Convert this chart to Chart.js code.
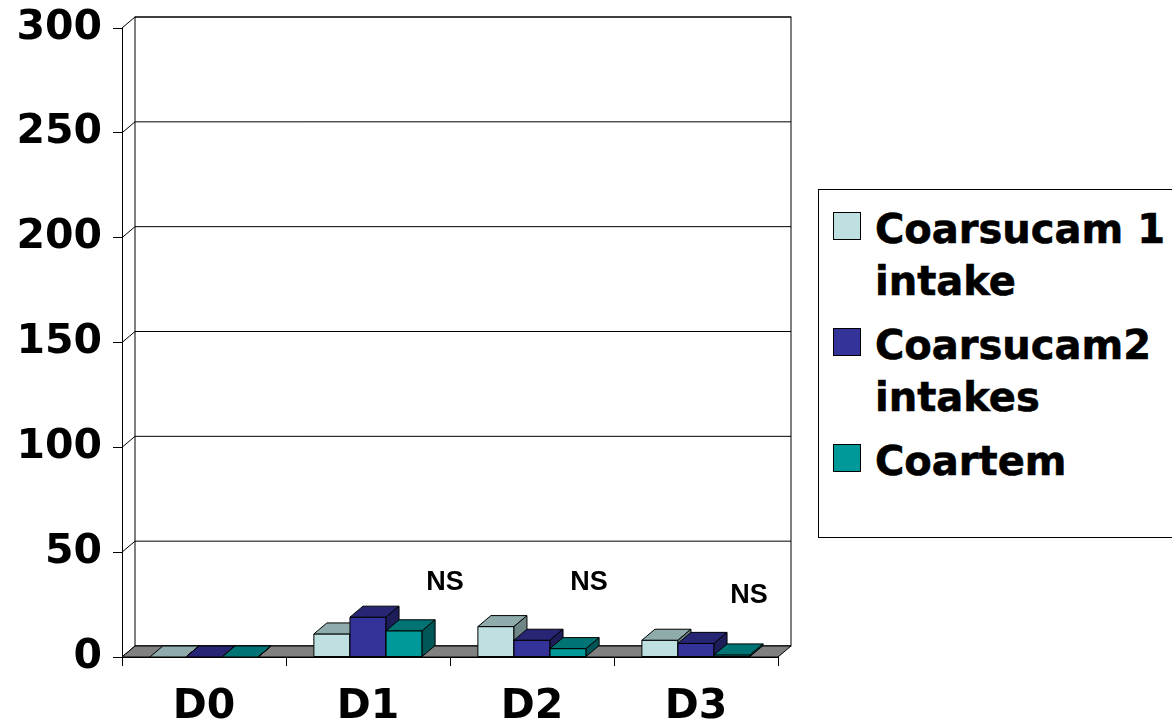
<!DOCTYPE html>
<html>
<head>
<meta charset="utf-8">
<script src="https://cdn.jsdelivr.net/npm/chart.js@4.4.1/dist/chart.umd.min.js"></script>
<style>
  html, body { margin: 0; padding: 0; background: #fff; overflow: hidden; }
  #wrap { position: relative; width: 1172px; height: 725px; }
  #legend {
    position: absolute; left: 818px; top: 189px; width: 420px; height: 349px;
    border: 1.5px solid #000; box-sizing: border-box; background: #fff;
    font-family: "DejaVu Sans", Verdana, sans-serif; font-weight: bold; font-size: 40px;
    line-height: 52px; padding-top: 13px; -webkit-text-stroke: 0.6px #000;
  }
  .item { position: relative; padding-left: 56px; width: 300px; margin-bottom: 12px; }
  .box { position: absolute; left: 14px; top: 9px; width: 28px; height: 28px; border: 1px solid #000; box-sizing: border-box; }
</style>
</head>
<body>
<div id="wrap">
  <canvas id="chart" width="1172" height="725"></canvas>
  <div id="legend"></div>
</div>
<script>
// data
const categories = ['D0', 'D1', 'D2', 'D3'];
const seriesNames = ['Coarsucam 1 intake', 'Coarsucam2 intakes', 'Coartem'];
const coarsucam1 = [0, 11, 14.5, 8];
const coarsucam2 = [0, 19, 8, 6.5];
const coartem = [0, 12.5, 4, 1];
const yTicks = [0, 50, 100, 150, 200, 250, 300];
// "NS" notes: category index, height in axis units
const nsNotes = [
  { cat: 1, value: 35.5, dx: 77 },
  { cat: 2, value: 35.5, dx: 57 },
  { cat: 3, value: 29.5, dx: 53 }
];

// colours: front, top, side
const frontColors = ['#BFE0E0', '#333399', '#009999'];
const topColors = ['#8FABAB', '#262675', '#007474'];
const sideColors = ['#6E8686', '#1D1D5A', '#005656'];
const depth = { dx: 13, dy: 11 };

const boldFont = '"DejaVu Sans", Verdana, sans-serif';

function poly(ctx, pts, fill) {
    ctx.beginPath();
    ctx.moveTo(pts[0][0], pts[0][1]);
    for (let i = 1; i < pts.length; i++) ctx.lineTo(pts[i][0], pts[i][1]);
    ctx.closePath();
    if (fill) { ctx.fillStyle = fill; ctx.fill(); }
    ctx.stroke();
}

const threeD = {
    id: 'threeD',
    beforeDatasetsDraw(chart) {
        const { ctx, chartArea: a, scales: { y } } = chart;
        const { dx, dy } = depth;
        ctx.save();
        ctx.lineWidth = 1;
        ctx.strokeStyle = '#000';
        // back wall
        ctx.strokeRect(a.left + dx, a.top - dy, a.right - a.left, a.bottom - a.top);
        // grid on back wall + left wall
        yTicks.forEach(v => {
            const py = y.getPixelForValue(v);
            ctx.beginPath();
            ctx.moveTo(a.left, py);
            ctx.lineTo(a.left + dx, py - dy);
            ctx.lineTo(a.right + dx, py - dy);
            ctx.stroke();
        });
        // floor
        poly(ctx, [[a.left, a.bottom], [a.right, a.bottom], [a.right + dx, a.bottom - dy], [a.left + dx, a.bottom - dy]], '#808080');
        ctx.restore();
    },
    afterDatasetsDraw(chart) {
        const { ctx, scales: { x, y } } = chart;
        const { dx, dy } = depth;
        ctx.save();
        ctx.lineWidth = 1;
        ctx.strokeStyle = '#000';
        for (let i = 0; i < categories.length; i++) {
            chart.data.datasets.forEach((ds, d) => {
                const bar = chart.getDatasetMeta(d).data[i];
                const p = bar.getProps(['x', 'y', 'base', 'width'], true);
                const l = p.x - p.width / 2, r = p.x + p.width / 2;
                poly(ctx, [[l, p.y], [r, p.y], [r, p.base], [l, p.base]], frontColors[d]);
                poly(ctx, [[l, p.y], [r, p.y], [r + dx, p.y - dy], [l + dx, p.y - dy]], topColors[d]);
                poly(ctx, [[r, p.y], [r + dx, p.y - dy], [r + dx, p.base - dy], [r, p.base]], sideColors[d]);
            });
        }
        // NS notes
        ctx.fillStyle = '#000';
        ctx.font = 'bold 27px "Liberation Sans", Arial, sans-serif';
        ctx.textAlign = 'center';
        ctx.textBaseline = 'middle';
        nsNotes.forEach(n => {
            ctx.fillText('NS', x.getPixelForValue(n.cat) + n.dx, y.getPixelForValue(n.value));
        });
        ctx.restore();
    }
};

const ctx = document.getElementById('chart').getContext('2d');

new Chart(ctx, {
    type: 'bar',
    data: {
        labels: categories,
        datasets: [coarsucam1, coarsucam2, coartem].map((vals, d) => ({
            label: seriesNames[d],
            data: vals,
            backgroundColor: frontColors[d],
            borderColor: '#000',
            borderWidth: 1,
            categoryPercentage: 0.66,
            barPercentage: 1
        }))
    },
    options: {
        responsive: false,
        devicePixelRatio: 1,
        animation: false,
        layout: { padding: { top: 28, right: 394, bottom: 0, left: 0 } },
        scales: {
            y: {
                min: 0,
                max: 300,
                afterFit: scale => {
                    scale.width = 122;
                    scale.paddingTop = 0;
                    scale.paddingBottom = 0;
                },
                afterBuildTicks: scale => { scale.ticks = yTicks.map(v => ({ value: v })); },
                ticks: {
                    color: '#000',
                    padding: 11,
                    font: { family: boldFont, size: 41, weight: 'bold' }
                },
                grid: { drawOnChartArea: false, tickLength: 9, color: '#000' },
                border: { display: true, color: '#000', width: 1 }
            },
            x: {
                afterFit: scale => {
                    scale.height = 68;
                    scale.paddingLeft = 0;
                    scale.paddingRight = 0;
                },
                ticks: {
                    color: '#000',
                    padding: 17,
                    font: { family: boldFont, size: 41, weight: 'bold' }
                },
                grid: { drawOnChartArea: false, tickLength: 9, color: '#000', offset: true },
                border: { display: true, color: '#000', width: 1 }
            }
        },
        plugins: {
            legend: { display: false },
            tooltip: { enabled: false }
        }
    },
    plugins: [threeD]
});

// legend
const legend = document.getElementById('legend');
seriesNames.forEach((name, d) => {
    const item = document.createElement('div');
    item.className = 'item';
    const box = document.createElement('span');
    box.className = 'box';
    box.style.background = frontColors[d];
    item.appendChild(box);
    item.appendChild(document.createTextNode(name));
    legend.appendChild(item);
});
</script>
</body>
</html>
